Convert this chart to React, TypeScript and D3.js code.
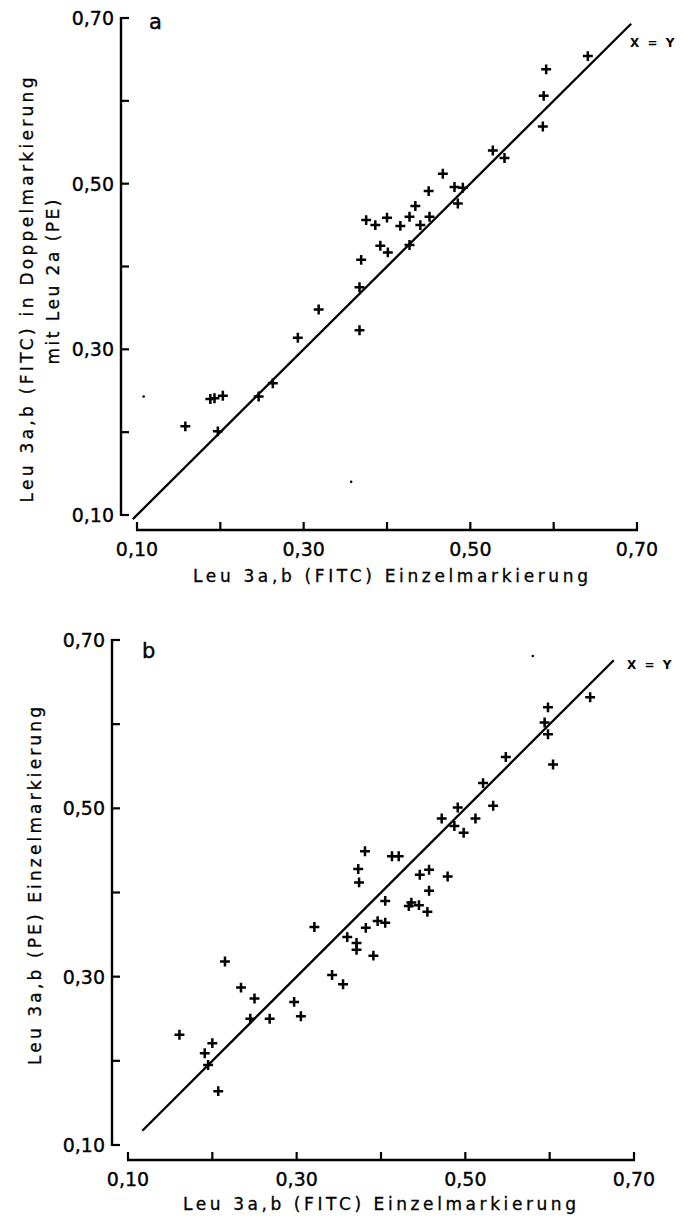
import React from "react";
import * as d3 from "d3";

// Leu 3a,b (FITC) single labelling vs. double labelling (panel a)
const aSingle = [
  0.158, 0.188, 0.193, 0.203, 0.197, 0.246, 0.263, 0.293, 0.318, 0.367, 0.367,
  0.369, 0.375, 0.386, 0.4, 0.392, 0.401, 0.416, 0.427, 0.427, 0.434, 0.44,
  0.451, 0.45, 0.467, 0.481, 0.491, 0.485, 0.527, 0.541, 0.587, 0.588, 0.591,
  0.641,
];
const aDouble = [
  0.207, 0.24, 0.241, 0.244, 0.201, 0.243, 0.259, 0.314, 0.348, 0.323, 0.375,
  0.408, 0.456, 0.45, 0.459, 0.425, 0.417, 0.449, 0.46, 0.426, 0.473, 0.45,
  0.46, 0.491, 0.512, 0.496, 0.495, 0.476, 0.54, 0.531, 0.569, 0.606, 0.638,
  0.654,
];

// Leu 3a,b (FITC) vs Leu 3a,b (PE), both single labelling (panel b)
const bFitc = [
  0.648, 0.598, 0.594, 0.598, 0.604, 0.548, 0.521, 0.533, 0.491, 0.472, 0.512,
  0.487, 0.498, 0.381, 0.413, 0.421, 0.373, 0.374, 0.446, 0.457, 0.479, 0.457,
  0.405, 0.433, 0.436, 0.445, 0.455, 0.321, 0.36, 0.371, 0.371, 0.382, 0.396,
  0.405, 0.391, 0.342, 0.355, 0.215, 0.234, 0.25, 0.245, 0.268, 0.297, 0.305,
  0.161, 0.191, 0.2, 0.195, 0.207,
];
const bPe = [
  0.632, 0.62, 0.602, 0.588, 0.552, 0.561, 0.53, 0.503, 0.501, 0.488, 0.488,
  0.479, 0.471, 0.449, 0.443, 0.443, 0.428, 0.412, 0.421, 0.427, 0.419, 0.402,
  0.39, 0.384, 0.388, 0.385, 0.377, 0.359, 0.347, 0.34, 0.332, 0.358, 0.366,
  0.364, 0.325, 0.302, 0.291, 0.318, 0.287, 0.274, 0.25, 0.25, 0.27, 0.253,
  0.231, 0.209, 0.221, 0.195, 0.164,
];

// stray specks on the scan
const aSpeckX = [0.108, 0.357];
const aSpeckY = [0.243, 0.14];
const bSpeckX = [0.58];
const bSpeckY = [0.681];

const axisTicks = [0.1, 0.2, 0.3, 0.4, 0.5, 0.6, 0.7];
const labelTicks = [0.1, 0.3, 0.5, 0.7];
const lineA = [0.095, 0.693];
const lineB = [0.117, 0.676];

const fmt = (v: number) => v.toFixed(2).replace(".", ",");
const FONT = "'DejaVu Sans', sans-serif";
// small bold "+" like the typewriter marks of the original
const plus = d3.symbol(d3.symbolPlus, 34)();

type PanelProps = {
  xs: number[];
  ys: number[];
  line: number[];
  xRange: [number, number];
  yRange: [number, number];
  yAxisX: number;
  xAxisY: number;
  letter: string;
  letterPos: [number, number];
  specksX?: number[];
  specksY?: number[];
};

function Panel(p: PanelProps) {
  const x = d3.scaleLinear().domain([0.1, 0.7]).range(p.xRange);
  const y = d3.scaleLinear().domain([0.1, 0.7]).range(p.yRange);
  const tick = 8;

  return (
    <g>
      {/* y axis */}
      <line x1={p.yAxisX} x2={p.yAxisX} y1={y(0.7) - 1} y2={y(0.1) + 1} stroke="#000" strokeWidth={2.4} />
      {axisTicks.map((t) => (
        <line key={"yt" + t} x1={p.yAxisX} x2={p.yAxisX + tick} y1={y(t)} y2={y(t)} stroke="#000" strokeWidth={2.2} />
      ))}
      {labelTicks.map((t) => (
        <text key={"yl" + t} x={p.yAxisX - 7} y={y(t)} dy="0.36em" textAnchor="end" fontSize={19} fontFamily={FONT} stroke="#000" strokeWidth={0.35}>
          {fmt(t)}
        </text>
      ))}

      {/* x axis */}
      <line x1={x(0.1) - 1} x2={x(0.7) + 1} y1={p.xAxisY} y2={p.xAxisY} stroke="#000" strokeWidth={2.4} />
      {axisTicks.map((t) => (
        <line key={"xt" + t} x1={x(t)} x2={x(t)} y1={p.xAxisY} y2={p.xAxisY - tick} stroke="#000" strokeWidth={2.2} />
      ))}
      {labelTicks.map((t) => (
        <text key={"xl" + t} x={x(t)} y={p.xAxisY + 26} textAnchor="middle" fontSize={19} fontFamily={FONT} stroke="#000" strokeWidth={0.35}>
          {fmt(t)}
        </text>
      ))}

      {/* x = y line */}
      <line x1={x(p.line[0])} y1={y(p.line[0])} x2={x(p.line[1])} y2={y(p.line[1])} stroke="#000" strokeWidth={2.3} />
      <text x={x(0.7) - 7} y={y(0.7) + 29} fontSize={12} fontWeight="bold" fontFamily={FONT} letterSpacing={2}>
        X = Y
      </text>

      {p.xs.map((v, i) => (
        <path key={"pt" + i} d={plus} transform={`translate(${x(v)},${y(p.ys[i])})`} stroke="#000" strokeWidth={2.5} fill="none" />
      ))}
      {(p.specksX || []).map((v, i) => (
        <circle key={"sp" + i} cx={x(v)} cy={y(p.specksY![i])} r={1.3} fill="#000" />
      ))}

      <text x={p.letterPos[0]} y={p.letterPos[1]} fontSize={21} fontFamily={FONT} stroke="#000" strokeWidth={0.4}>
        {p.letter}
      </text>
    </g>
  );
}

export default function App() {
  const titleStyle = { fontSize: 17, fontFamily: FONT, stroke: "#000", strokeWidth: 0.3 };
  return (
    <svg width={683} height={1220} style={{ position: "absolute", left: 0, top: 0, background: "#fff" }}>
      <Panel
        xs={aSingle}
        ys={aDouble}
        line={lineA}
        xRange={[137, 637]}
        yRange={[515, 18]}
        yAxisX={121}
        xAxisY={530}
        letter="a"
        letterPos={[149, 29]}
        specksX={aSpeckX}
        specksY={aSpeckY}
      />
      <text x={193} y={582} style={titleStyle} textLength={395} lengthAdjust="spacing">
        Leu 3a,b (FITC) Einzelmarkierung
      </text>
      <text transform="translate(33,290) rotate(-90)" textAnchor="middle" style={titleStyle} textLength={425} lengthAdjust="spacing">
        Leu 3a,b (FITC) in Doppelmarkierung
      </text>
      <text transform="translate(59,282) rotate(-90)" textAnchor="middle" style={titleStyle} textLength={165} lengthAdjust="spacing">
        mit Leu 2a (PE)
      </text>

      <Panel
        xs={bFitc}
        ys={bPe}
        line={lineB}
        xRange={[128, 634]}
        yRange={[1145, 640]}
        yAxisX={112}
        xAxisY={1160}
        letter="b"
        letterPos={[142, 658]}
        specksX={bSpeckX}
        specksY={bSpeckY}
      />
      <text x={183} y={1210} style={titleStyle} textLength={393} lengthAdjust="spacing">
        Leu 3a,b (FITC) Einzelmarkierung
      </text>
      <text transform="translate(41,886) rotate(-90)" textAnchor="middle" style={titleStyle} textLength={358} lengthAdjust="spacing">
        Leu 3a,b (PE) Einzelmarkierung
      </text>
    </svg>
  );
}
